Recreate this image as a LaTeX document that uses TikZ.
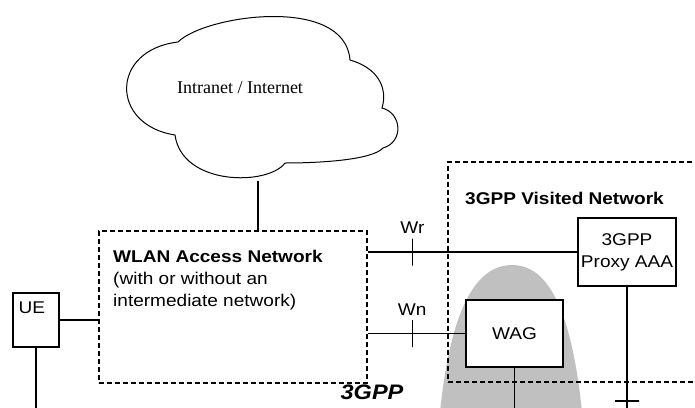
\documentclass[tikz,border=0pt]{standalone}
\usepackage{fontspec}
\setmainfont{Liberation Sans}[FakeStretch=1.12]
\newfontfamily\timesfont{Liberation Serif}
\usetikzlibrary{calc}
\definecolor{bellgray}{RGB}{192,192,192}
\tikzstyle{box}=[rectangle,draw,fill=white,line width=1.3pt,inner sep=0pt,align=center]
\tikzstyle{network}=[rectangle,draw,dash pattern=on 5pt off 3pt,line width=1.5pt,inner sep=0pt]
\tikzstyle{link}=[draw,line width=1.3pt]
\tikzstyle{vtick}=[draw,line width=1.3pt,inner sep=0pt,minimum width=0pt,minimum height=27pt]
\tikzstyle{htick}=[draw,line width=1.3pt,inner sep=0pt,minimum width=24pt,minimum height=0pt]
\tikzstyle{iface}=[label distance=-2pt]

\begin{document}
\begin{tikzpicture}[x=1pt,y=-1pt,font=\fontsize{17}{22}\selectfont]
    \path[use as bounding box,clip] (0,0) rectangle (695,407);
    \coordinate (bottomline) at (0,412);

    % grey area behind the WAG
    \fill[bellgray] (440,412) .. controls (452,295) and (482,265) .. (512,265)
        .. controls (542,265) and (570,295) .. (582,412) -- cycle;

    % the cloud
    \draw[line width=1pt] (178,42) .. controls (205,15) and (345,-5) .. (350,60)
        .. controls (378,68) and (388,88) .. (382,108)
        .. controls (402,113) and (404,142) .. (383,148)
        .. controls (372,160) and (320,163) .. (285,163)
        .. controls (268,186) and (182,186) .. (175,135)
        .. controls (110,125) and (110,50) .. (178,42) -- cycle;
    \node[font=\timesfont\fontsize{18}{20}\selectfont] (cloud) at (240,88) {Intranet / Internet};
    \coordinate (cloudfoot) at (258,181);

    % the two networks
    \node[network,minimum width=268pt,minimum height=152pt] (wlan) at (233,307) {};
    \node[anchor=north west,align=left,inner sep=0pt] (wlantext) at (113,250)
        {\textbf{WLAN Access Network}\\ (with or without an\\ intermediate network)};
    \node[network,minimum width=272pt,minimum height=220pt] (visited) at (584,272) {};
    \node[anchor=west,inner sep=0pt] (visitedtext) at (465,198) {\textbf{3GPP Visited Network}};

    % the boxes
    \node[box,minimum width=46pt,minimum height=54pt] (ue) at (36,320) {};
    \node[anchor=north west,inner sep=0pt] (uetext) at ($(ue.north west)+(6,9)$) {UE};
    \node[box,minimum width=97pt,minimum height=67pt] (wag) at (514.5,333.5) {WAG};
    \node[box,minimum width=98pt,minimum height=68pt] (proxy) at (627,252) {3GPP\\Proxy AAA};

    % connect them
    \path[link] (cloudfoot) -- (cloudfoot |- wlan.north);
    \path[link] (ue.east) -- (ue.east -| wlan.west);
    \path[link] (ue.south) -- (ue.south |- bottomline);
    \path[link] (wlan.east |- proxy.west) -- node[vtick,pos=0.213,iface,label=above:Wr] (wrtick) {} (proxy.west);
    \path[link] (wlan.east |- wag.west) -- node[vtick,pos=0.455,iface,label=above:Wn] (wntick) {} (wag.west);
    \path[link] (wag.south) -- (wag.south |- bottomline);
    \path[link] (proxy.south) -- (proxy.south |- bottomline);
    \node[htick] (proxytick) at (proxy.south |- 0,401) {};

    \node[font=\bfseries\itshape\fontsize{21}{24}\selectfont] (mark) at (372,392) {3GPP};
\end{tikzpicture}
\end{document}
